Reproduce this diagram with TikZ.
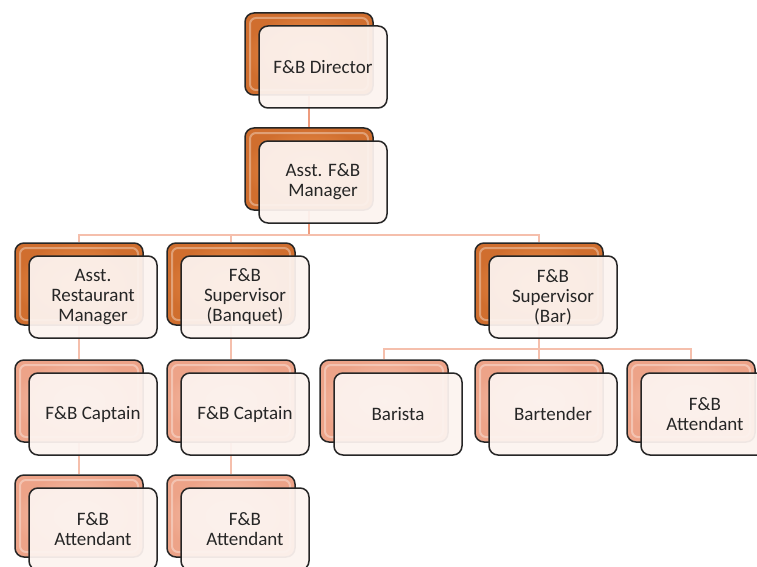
\documentclass[tikz,border=0pt]{standalone}
\usepackage{fontspec}
\setmainfont{Carlito}
\definecolor{oD}{HTML}{D06E2E}
\definecolor{oL}{HTML}{F59C58}
\definecolor{sD}{HTML}{EDA388}
\definecolor{sL}{HTML}{FAD3C2}
\definecolor{frC}{HTML}{FCF3EF}
\definecolor{connA}{HTML}{EE9C7E}
\definecolor{connB}{HTML}{F5BFAC}
\definecolor{txt}{HTML}{262626}
\begin{document}
\begin{tikzpicture}[x=1pt,y=-1pt,
  conn/.style={draw=connB, line width=2pt},
  connTop/.style={draw=connA, line width=2pt},
  bk/.style={draw=black!85, line width=1.5pt, rounded corners=9pt, minimum width=128pt, minimum height=82pt, inner sep=0pt,
    path picture={\draw[white, opacity=0.35, line width=2pt, rounded corners=6pt]
      ([shift={(5pt,-5pt)}]path picture bounding box.north west) rectangle ([shift={(-5pt,5pt)}]path picture bounding box.south east);}},
  bkO/.style={bk, inner color=oL, outer color=oD},
  bkS/.style={bk, inner color=sL, outer color=sD},
  fr/.style={draw=black!85, line width=1.5pt, rounded corners=9pt, minimum width=128pt, minimum height=82pt, inner sep=0pt, fill=frC, fill opacity=0.94, text opacity=1, text=txt, align=center, font=\fontsize{19}{20}\selectfont}
]
\useasboundingbox (0,0) rectangle (757,567);
\clip (0,0) rectangle (757,567);
% back boxes
\node[bkO] (dirB) at (309,54) {};
\node[bkO] (mgrB) at (309,169) {};
\node[bkO] (armB) at (79,284) {};
\node[bkO] (banB) at (231,284) {};
\node[bkO] (barB) at (539,284) {};
\node[bkS] (cap1B) at (79,401) {};
\node[bkS] (cap2B) at (231,401) {};
\node[bkS] (baristaB) at (384,401) {};
\node[bkS] (bartB) at (539,401) {};
\node[bkS] (att3B) at (691,401) {};
\node[bkS] (att1B) at (79,516) {};
\node[bkS] (att2B) at (231,516) {};
% connectors
\coordinate (bus1) at (0,235);
\coordinate (bus2) at (0,349);
\draw[connTop] (dirB.south) -- (mgrB.north);
\draw[connTop] (mgrB.south) -- (mgrB.south |- bus1);
\draw[conn] (armB.north) -- (armB.north |- bus1) -- (barB.north |- bus1) -- (barB.north);
\draw[conn] (banB.north) -- (banB.north |- bus1);
\draw[conn] (armB.south) -- (cap1B.north);
\draw[conn] (cap1B.south) -- (att1B.north);
\draw[conn] (banB.south) -- (cap2B.north);
\draw[conn] (cap2B.south) -- (att2B.north);
\draw[conn] (barB.south) -- (barB.south |- bus2);
\draw[conn] (baristaB.north) -- (baristaB.north |- bus2) -- (att3B.north |- bus2) -- (att3B.north);
\draw[conn] (bartB.north) -- (bartB.north |- bus2);
% front boxes
\node[fr] (dir) at (323,67) {F\&B Director};
\node[fr] (mgr) at (323,182) {Asst. F\&B\\Manager};
\node[fr] (arm) at (93,297) {Asst.\\Restaurant\\Manager};
\node[fr] (ban) at (245,297) {F\&B\\Supervisor\\(Banquet)};
\node[fr] (bar) at (553,297) {F\&B\\Supervisor\\(Bar)};
\node[fr] (cap1) at (93,414) {F\&B Captain};
\node[fr] (cap2) at (245,414) {F\&B Captain};
\node[fr] (barista) at (398,414) {Barista};
\node[fr] (bart) at (553,414) {Bartender};
\node[fr] (att3) at (705,414) {F\&B\\Attendant};
\node[fr] (att1) at (93,529) {F\&B\\Attendant};
\node[fr] (att2) at (245,529) {F\&B\\Attendant};
\end{tikzpicture}
\end{document}
